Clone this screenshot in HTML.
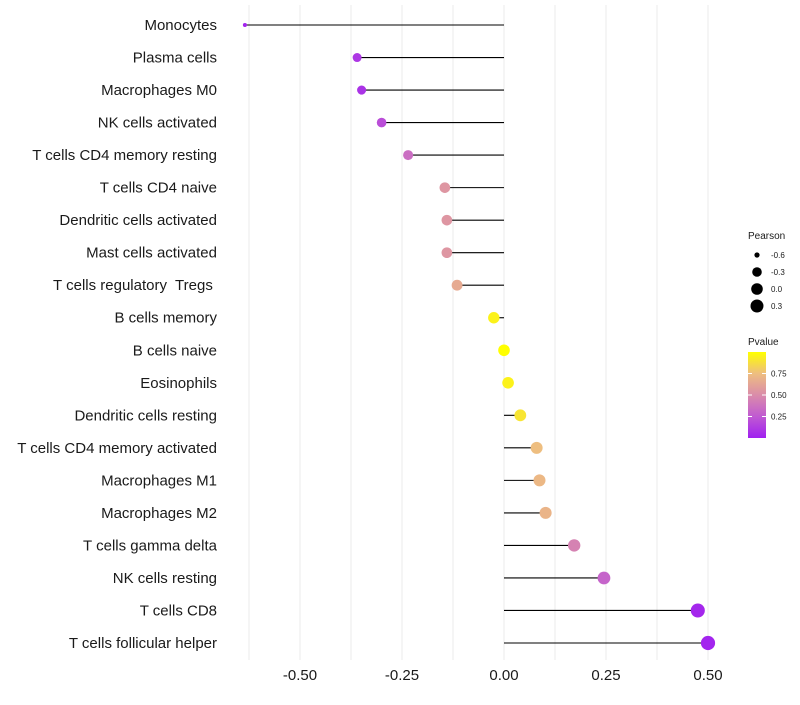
<!DOCTYPE html>
<html><head><meta charset="utf-8"><style>
body{margin:0;background:#fff;font-family:"Liberation Sans",sans-serif}
text{white-space:pre}
</style></head><body>
<svg id="chart" width="800" height="700" xmlns="http://www.w3.org/2000/svg" font-family="Liberation Sans, sans-serif">
<g id="grid"></g>
<g id="ylabels"></g>
<g id="marks"></g>
<g id="xticks"></g>
<g id="legend"></g>
</svg>
<script>
const categories=["Monocytes","Plasma cells","Macrophages M0","NK cells activated","T cells CD4 memory resting","T cells CD4 naive","Dendritic cells activated","Mast cells activated","T cells regulatory  Tregs ","B cells memory","B cells naive","Eosinophils","Dendritic cells resting","T cells CD4 memory activated","Macrophages M1","Macrophages M2","T cells gamma delta","NK cells resting","T cells CD8","T cells follicular helper"];
const pearson=[-0.635,-0.36,-0.349,-0.30,-0.235,-0.145,-0.14,-0.14,-0.115,-0.025,0.0,0.01,0.04,0.08,0.087,0.102,0.172,0.245,0.475,0.50];
const pvalue=[0.02,0.1,0.08,0.2,0.35,0.55,0.55,0.55,0.65,0.95,1.0,0.95,0.9,0.75,0.72,0.7,0.45,0.3,0.03,0.02];
const xTicks=[-0.5,-0.25,0,0.25,0.5];
const xTickLabels=["-0.50","-0.25","0.00","0.25","0.50"];
const xMinor=[-0.625,-0.375,-0.125,0.125,0.375];
const sizeLegend=[-0.6,-0.3,0.0,0.3];
const sizeLegendLabels=["-0.6","-0.3","0.0","0.3"];
const pLegend=[0.25,0.5,0.75];
const pLegendLabels=["0.25","0.50","0.75"];

const NS="http://www.w3.org/2000/svg";
const x=v=>504+v*408;
const y=i=>25+i*(643-25)/19;
const rA=[[-0.65,1.8],[-0.6,2.6],[-0.36,4.5],[-0.3,4.8],[0,5.8],[0.3,6.5],[0.5,7.1]];
function r(v){if(v<=rA[0][0])return rA[0][1];for(let k=1;k<rA.length;k++){if(v<=rA[k][0]){const a=rA[k-1],b=rA[k];return a[1]+(b[1]-a[1])*(v-a[0])/(b[0]-a[0]);}}return rA[rA.length-1][1];}
const stops=[[0,[160,32,240]],[0.25,[192,90,210]],[0.5,[218,140,170]],[0.75,[238,190,128]],[1,[255,255,0]]];
function col(p){p=Math.max(0,Math.min(1,p));for(let k=1;k<stops.length;k++){if(p<=stops[k][0]){const a=stops[k-1],b=stops[k];const t=(p-a[0])/(b[0]-a[0]);const c=a[1].map((v,j)=>Math.round(v+(b[1][j]-v)*t));return `rgb(${c})`;}}return "rgb(255,255,0)";}
function mk(tag,at,parent){const e=document.createElementNS(NS,tag);for(const k in at)e.setAttribute(k,at[k]);parent.appendChild(e);return e;}
const grid=document.getElementById('grid');
xTicks.concat(xMinor).forEach(v=>{const l=mk('line',{x1:x(v),x2:x(v),y1:5,y2:660,stroke:'#ebebeb','stroke-width':1},grid);

});
const xt=document.getElementById('xticks');
xTicks.forEach((v,i)=>{const t=mk('text',{x:x(v),y:680,'text-anchor':'middle','font-size':15,fill:'#1a1a1a'},xt);t.textContent=xTickLabels[i];

});
const yl=document.getElementById('ylabels');const mg=document.getElementById('marks');
categories.forEach((c,i)=>{
const t=mk('text',{x:217,y:y(i)+5,'text-anchor':'end','font-size':15,fill:'#1a1a1a'},yl);t.textContent=c;


const l=mk('line',{x1:x(0),x2:x(pearson[i]),y1:y(i),y2:y(i),stroke:'#000','stroke-width':1.1},mg);


const d=mk('circle',{cx:x(pearson[i]),cy:y(i),r:r(pearson[i]),fill:col(pvalue[i])},mg);


});
const lg=document.getElementById('legend');
let tt=mk('text',{x:748,y:239,'font-size':10,fill:'#1a1a1a'},lg);tt.textContent='Pearson';
sizeLegend.forEach((v,i)=>{const cy=255+i*17;
const c=mk('circle',{cx:757,cy:cy,r:r(v),fill:'#000'},lg);


const t=mk('text',{x:771,y:cy+3,'font-size':8,fill:'#1a1a1a'},lg);t.textContent=sizeLegendLabels[i];

});
tt=mk('text',{x:748,y:345,'font-size':10,fill:'#1a1a1a'},lg);tt.textContent='Pvalue';
const defs=mk('defs',{},lg);const gr=mk('linearGradient',{id:'pg',x1:0,y1:1,x2:0,y2:0},defs);
stops.forEach(s=>mk('stop',{offset:s[0],'stop-color':`rgb(${s[1]})`},gr));
const bar=mk('rect',{x:748,y:352,width:18,height:86,fill:'url(#pg)'},lg);


const py=p=>438-p*86;
pLegend.forEach((v,i)=>{mk('line',{x1:748,x2:752,y1:py(v),y2:py(v),stroke:'#fff'},lg);mk('line',{x1:762,x2:766,y1:py(v),y2:py(v),stroke:'#fff'},lg);
const t=mk('text',{x:771,y:py(v)+3,'font-size':8,fill:'#1a1a1a'},lg);t.textContent=pLegendLabels[i];

});
</script>
</body></html>
